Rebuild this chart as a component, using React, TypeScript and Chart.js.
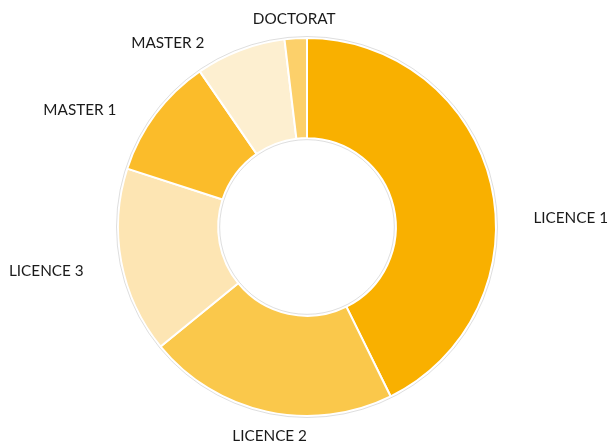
import React, { useEffect, useRef } from "react";
import { Chart, registerables } from "chart.js";

Chart.register(...registerables);

const categories = ["LICENCE 1", "LICENCE 2", "LICENCE 3", "MASTER 1", "MASTER 2", "DOCTORAT"];
const values = [42.7, 21.4, 15.9, 10.4, 7.7, 1.9];
const colors = ["#F9B000", "#FAC84B", "#FDE5B3", "#FBBC2A", "#FDEFD0", "#FCD06A"];

// label placement tweaks (alignment, dx, dy) relative to the mid-angle anchor
const labelTweaks: [CanvasTextAlign, number, number][] = [
  ["left", 18, 40],
  ["center", 8, 0],
  ["right", -13, 5],
  ["right", -19, 11],
  ["right", -27, 16],
  ["center", 0, 6],
];

const outerLabels = {
  id: "outerLabels",
  afterDatasetsDraw(chart: any) {
    const ctx = chart.ctx;
    const meta = chart.getDatasetMeta(0);
    const first = meta.data[0];
    if (!first) return;
    const { x: cx, y: cy, outerRadius, innerRadius } = first as any;
    ctx.save();
    // faint outline
    ctx.strokeStyle = "rgba(0,0,0,0.13)";
    ctx.lineWidth = 1;
    ctx.beginPath();
    ctx.arc(cx, cy, outerRadius + 1.5, 0, Math.PI * 2);
    ctx.stroke();
    ctx.beginPath();
    ctx.arc(cx, cy, Math.max(innerRadius - 1.5, 0), 0, Math.PI * 2);
    ctx.stroke();

    ctx.font = "15.3px Lato, 'Open Sans', sans-serif";
    ctx.fillStyle = "#1a1a1a";
    ctx.textBaseline = "middle";
    meta.data.forEach((arc: any, i: number) => {
      const mid = (arc.startAngle + arc.endAngle) / 2;
      const r = outerRadius + 25;
      const ax = cx + Math.cos(mid) * r;
      const ay = cy + Math.sin(mid) * r;
      const [align, dx, dy] = labelTweaks[i];
      ctx.textAlign = align;
      ctx.fillText(categories[i], ax + dx, ay + dy);
    });
    ctx.restore();
  },
};

export default function App() {
  const ref = useRef<HTMLCanvasElement | null>(null);
  useEffect(() => {
    if (!ref.current) return;
    const chart = new Chart(ref.current, {
      type: "doughnut",
      data: {
        labels: categories,
        datasets: [
          {
            data: values,
            backgroundColor: colors,
            borderColor: "#ffffff",
            borderWidth: 2,
            hoverOffset: 0,
          },
        ],
      },
      options: {
        responsive: false,
        animation: false,
        cutout: "47%",
        layout: { padding: { left: 117, right: 112, top: 37, bottom: 27 } },
        plugins: {
          legend: { display: false },
          tooltip: { enabled: false },
        },
      },
      plugins: [outerLabels],
    });
    return () => chart.destroy();
  }, []);
  return (
    <div style={{ position: "fixed", left: 0, top: 0, width: 609, height: 444, background: "#fff" }}>
      <canvas ref={ref} width={609} height={444} style={{ width: 609, height: 444 }} />
    </div>
  );
}
